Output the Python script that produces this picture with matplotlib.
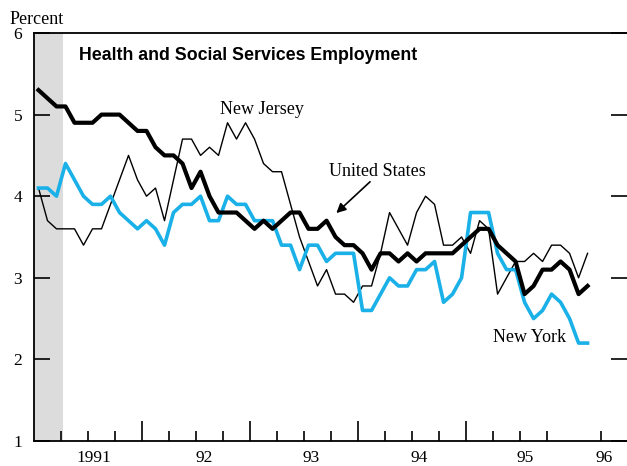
import numpy as np
import matplotlib
matplotlib.use('Agg')
import matplotlib.pyplot as plt

# monthly data, Jan 1991 - Feb 1996 (percent)
months = np.arange(62)
us = [5.3, 5.2, 5.1, 5.1, 4.9, 4.9, 4.9, 5.0, 5.0, 5.0,
      4.9, 4.8, 4.8, 4.6, 4.5, 4.5, 4.4, 4.1, 4.3, 4.0,
      3.8, 3.8, 3.8, 3.7, 3.6, 3.7, 3.6, 3.7, 3.8, 3.8,
      3.6, 3.6, 3.7, 3.5, 3.4, 3.4, 3.3, 3.1, 3.3, 3.3,
      3.2, 3.3, 3.2, 3.3, 3.3, 3.3, 3.3, 3.4, 3.5, 3.6,
      3.6, 3.4, 3.3, 3.2, 2.8, 2.9, 3.1, 3.1, 3.2, 3.1,
      2.8, 2.9]
ny = [4.1, 4.1, 4.0, 4.4, 4.2, 4.0, 3.9, 3.9, 4.0, 3.8,
      3.7, 3.6, 3.7, 3.6, 3.4, 3.8, 3.9, 3.9, 4.0, 3.7,
      3.7, 4.0, 3.9, 3.9, 3.7, 3.7, 3.7, 3.4, 3.4, 3.1,
      3.4, 3.4, 3.2, 3.3, 3.3, 3.3, 2.6, 2.6, 2.8, 3.0,
      2.9, 2.9, 3.1, 3.1, 3.2, 2.7, 2.8, 3.0, 3.8, 3.8,
      3.8, 3.3, 3.1, 3.1, 2.7, 2.5, 2.6, 2.8, 2.7, 2.5,
      2.2, 2.2]
nj = [4.1, 3.7, 3.6, 3.6, 3.6, 3.4, 3.6, 3.6, 3.9, 4.2,
      4.5, 4.2, 4.0, 4.1, 3.7, 4.2, 4.7, 4.7, 4.5, 4.6,
      4.5, 4.9, 4.7, 4.9, 4.7, 4.4, 4.3, 4.3, 3.9, 3.5,
      3.2, 2.9, 3.1, 2.8, 2.8, 2.7, 2.9, 2.9, 3.3, 3.8,
      3.6, 3.4, 3.8, 4.0, 3.9, 3.4, 3.4, 3.5, 3.3, 3.7,
      3.6, 2.8, 3.0, 3.2, 3.2, 3.3, 3.2, 3.4, 3.4, 3.3,
      3.0, 3.3]
year_labels = ['1991', '92', '93', '94', '95', '96']
year_label_pos = [1991.55, 1992.58, 1993.57, 1994.57, 1995.55, 1996.28]
recession = (1991.0, 1991.27)

x = 1991 + (months + 0.5) / 12

serif = ['Liberation Serif', 'DejaVu Serif']
fig = plt.figure(figsize=(6.27, 4.66), dpi=100)
ax = fig.add_axes([34 / 627, 25 / 466, 593 / 627, 408 / 466])

ax.axvspan(*recession, color='#dcdcdc', lw=0, zorder=0)
ax.plot(x, nj, color='black', lw=1.0, zorder=2)
ax.plot(x, ny, color='#1ab0e8', lw=2.6, zorder=3)
ax.plot(x, us, color='black', lw=3.0, zorder=4)

ax.set_xlim(1991.0, 1996.49)
ax.set_ylim(1, 6)

for s in ['top', 'left', 'bottom']:
    ax.spines[s].set_linewidth(1.3)
ax.spines['right'].set_visible(False)

ax.set_yticks([1, 2, 3, 4, 5, 6])
ax.tick_params(axis='y', direction='in', length=11.5, width=1.2,
               left=True, right=True, pad=8.5)
for lab in ax.get_yticklabels():
    lab.set_family(serif)
    lab.set_fontsize(12.5)

ax.set_xticks([1992, 1993, 1994, 1995])
ax.set_xticks([q for q in np.arange(1991.25, 1996.3, 0.25) if q % 1 != 0], minor=True)
ax.tick_params(axis='x', which='major', direction='in', length=14.4, width=1.2, labelbottom=False)
ax.tick_params(axis='x', which='minor', direction='in', length=7.2, width=1.2)
for pos, lab in zip(year_label_pos, year_labels):
    ax.text(pos, -0.042, lab, transform=ax.get_xaxis_transform(), ha='center', va='center',
            fontsize=12.5, family=serif, clip_on=False)

ax.text(1993.11, 5.06, 'New Jersey', ha='center', va='center', fontsize=13, family=serif)
ax.text(1994.18, 4.30, 'United States', ha='center', va='center', fontsize=13, family=serif)
ax.text(1995.59, 2.27, 'New York', ha='center', va='center', fontsize=13, family=serif)
ax.annotate('', xy=(1993.78, 3.77), xytext=(1994.13, 4.2),
            arrowprops=dict(arrowstyle='-|>', color='black', lw=1.2, mutation_scale=14))

fig.text(79 / 627, 1 - 55 / 466, 'Health and Social Services Employment', ha='left', va='center',
         fontsize=12.8, fontweight='bold', family=['Liberation Sans', 'DejaVu Sans'])
fig.text(10 / 627, 1 - 19 / 466, 'Percent', ha='left', va='center', fontsize=13, family=serif)

fig.savefig('out.png', dpi=100)
